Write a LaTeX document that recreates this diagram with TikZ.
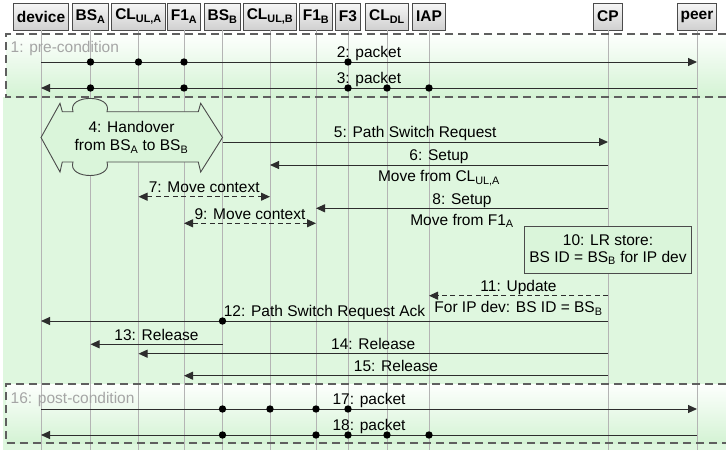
\documentclass[tikz,border=0pt]{standalone}
\usepackage{fontspec}
\setmainfont{Liberation Sans}
\usetikzlibrary{arrows.meta}
\definecolor{bg}{RGB}{223,247,223}
\definecolor{frtop}{RGB}{253,255,253}
\definecolor{frbot}{RGB}{212,243,212}
\definecolor{boxfill}{RGB}{218,245,218}
\definecolor{ln}{RGB}{45,45,45}
\definecolor{lifec}{RGB}{180,180,180}
\definecolor{bdr}{RGB}{75,75,75}
\definecolor{hdtop}{RGB}{246,246,246}
\definecolor{hdbot}{RGB}{208,208,208}
\definecolor{frtext}{RGB}{165,165,165}
\definecolor{frline}{RGB}{95,95,95}
\tikzset{
  basefont/.style={font=\fontsize{15.5}{18}\selectfont},
  hdr/.style={draw=bdr, line width=0.9pt, top color=hdtop, bottom color=hdbot,
    font=\fontsize{15.5}{18}\selectfont\bfseries, minimum height=27pt,
    inner xsep=3.5pt, inner ysep=0pt, anchor=center},
  lifeline/.style={draw=lifec, line width=0.8pt},
  frame/.style={draw=frline, line width=1.1pt, dash pattern=on 8pt off 5pt},
  frlabel/.style={basefont, text=frtext, anchor=base west, inner sep=0pt},
  msg/.style={draw=ln, line width=1pt, -{Triangle[length=9pt,width=8pt]}},
  dmsg/.style={draw=ln, line width=1pt, dash pattern=on 5pt off 3.5pt,
    {Triangle[length=9pt,width=8pt]}-{Triangle[length=9pt,width=8pt]}},
  umsg/.style={draw=ln, line width=1pt, dash pattern=on 5pt off 3.5pt,
    -{Triangle[length=9pt,width=8pt]}},
  lblup/.style={basefont, anchor=base, inner sep=0pt, yshift=4.3pt, pos=0.5},
  lbldn/.style={basefont, anchor=base, inner sep=0pt, yshift=-16.8pt, pos=0.5},
  dot/.style={fill=black},
  notebox/.style={draw=bdr, line width=0.9pt, fill=boxfill, align=center,
    font=\fontsize{15.5}{16.7}\selectfont, inner sep=0pt},
}
\begin{document}
\begin{tikzpicture}[x=1pt,y=-1pt]
\useasboundingbox (0,0) rectangle (726,450);

% backgrounds
\fill[bg] (3,97) rectangle (726,450);
\shade[top color=frtop,bottom color=frbot] (6,34) rectangle (726,97);
\shade[top color=frtop,bottom color=frbot] (6,384) rectangle (726,443);

% header boxes
\node[hdr] (dev)  at (41,16.5)  {device};
\node[hdr] (bsa)  at (90.5,16.5) {BS\textsubscript{A}};
\node[hdr] (cla)  at (138.5,16.5) {CL\textsubscript{UL,A}};
\node[hdr] (f1a)  at (184,16.5) {F1\textsubscript{A}};
\node[hdr] (bsb)  at (222.5,16.5) {BS\textsubscript{B}};
\node[hdr] (clb)  at (270,16.5) {CL\textsubscript{UL,B}};
\node[hdr] (f1b)  at (316,16.5) {F1\textsubscript{B}};
\node[hdr] (ff3)  at (348,16.5) {F3};
\node[hdr] (cldl) at (387,16.5) {CL\textsubscript{DL}};
\node[hdr] (iap)  at (429,16.5) {IAP};
\node[hdr] (cp)   at (608,16.5) {CP};
\node[hdr] (peer) at (697,16.5) {peer};

% lifelines
\foreach \n in {dev,bsa,cla,f1a,bsb,clb,f1b,ff3,cldl,iap,cp,peer}
  \draw[lifeline] (\n.south) -- (\n.center |- 0,450);

% frames
\draw[frame] (726,34) -- (6,34) -- (6,97) -- (726,97);
\draw[frame] (726,384) -- (6,384) -- (6,443) -- (726,443);
\node[frlabel] (pre) at (10.5,52) {1: pre-condition};
\node[frlabel] (post) at (10.5,403) {16: post-condition};

% 2 and 3
\draw[msg] (dev.center |- 0,62) -- (peer.center |- 0,62) node[lblup] (l2) {2: packet};
\foreach \n in {bsa,cla,f1a,ff3} \fill[dot] (\n.center |- 0,62) circle (3.7pt);
\draw[msg] (peer.center |- 0,88) -- (dev.center |- 0,88) node[lblup] (l3) {3: packet};
\foreach \n in {bsa,f1a,ff3,cldl,iap} \fill[dot] (\n.center |- 0,88) circle (3.7pt);

% 4 handover
\draw[draw=bdr, line width=0.9pt, fill=boxfill]
  (dev.center |- 0,137.5) -- (60,103.3) -- (62.3,111.7) -- (73,111.7)
  .. controls (67,94) and (113,94) .. (107,111.7)
  -- (198.3,111.7) -- (200.7,103.3) -- (bsb.center |- 0,137.5) -- (200.7,172) -- (198.3,162)
  -- (107,162) .. controls (113,180) and (67,180) .. (73,162)
  -- (62.3,162) -- (60,172) -- cycle;
\node[basefont, align=center] (ho) at (131.5,137.3) {4: Handover\\from BS\textsubscript{A} to BS\textsubscript{B}};

% 5
\draw[msg] (bsb.center |- 0,142) -- (cp.center |- 0,142) node[lblup] (l5) {5: Path Switch Request};
% 6
\draw[msg] (cp.center |- 0,165) -- (clb.center |- 0,165) node[lblup] (l6) {6: Setup}
  node[lbldn] (l6b) {Move from CL\textsubscript{UL,A}};
% 7
\draw[dmsg] (cla.center |- 0,196.7) -- (clb.center |- 0,196.7) node[lblup] (l7) {7: Move context};
% 8
\draw[msg] (cp.center |- 0,208.3) -- (f1b.center |- 0,208.3) node[lblup] (l8) {8: Setup}
  node[lbldn] (l8b) {Move from F1\textsubscript{A}};
% 9
\draw[dmsg] (f1a.center |- 0,223.3) -- (f1b.center |- 0,223.3) node[lblup] (l9) {9: Move context};

% 10
\node[notebox, minimum width=167pt, minimum height=47pt] (lr) at (cp.center |- 0,249.5)
  {10: LR store:\\BS ID = BS\textsubscript{B} for IP dev};

% 11
\draw[umsg] (cp.center |- 0,295.7) -- (iap.center |- 0,295.7) node[lblup] (l11) {11: Update}
  node[lbldn] (l11b) {For IP dev: BS ID = BS\textsubscript{B}};
% 12
\draw[msg] (cp.center |- 0,321) -- (dev.center |- 0,321) node[lblup] (l12) {12: Path Switch Request Ack};
\fill[dot] (bsb.center |- 0,321) circle (3.7pt);
% 13
\draw[msg] (bsb.center |- 0,344.3) -- (bsa.center |- 0,344.3) node[lblup] (l13) {13: Release};
% 14
\draw[msg] (cp.center |- 0,353.7) -- (cla.center |- 0,353.7) node[lblup] (l14) {14: Release};
% 15
\draw[msg] (cp.center |- 0,375.7) -- (f1a.center |- 0,375.7) node[lblup] (l15) {15: Release};

% 17 and 18
\draw[msg] (dev.center |- 0,409) -- (peer.center |- 0,409) node[lblup] (l17) {17: packet};
\foreach \n in {bsb,clb,f1b,ff3} \fill[dot] (\n.center |- 0,409) circle (3.7pt);
\draw[msg] (peer.center |- 0,435) -- (dev.center |- 0,435) node[lblup] (l18) {18: packet};
\foreach \n in {bsb,f1b,ff3,cldl,iap} \fill[dot] (\n.center |- 0,435) circle (3.7pt);
\end{tikzpicture}
\end{document}
